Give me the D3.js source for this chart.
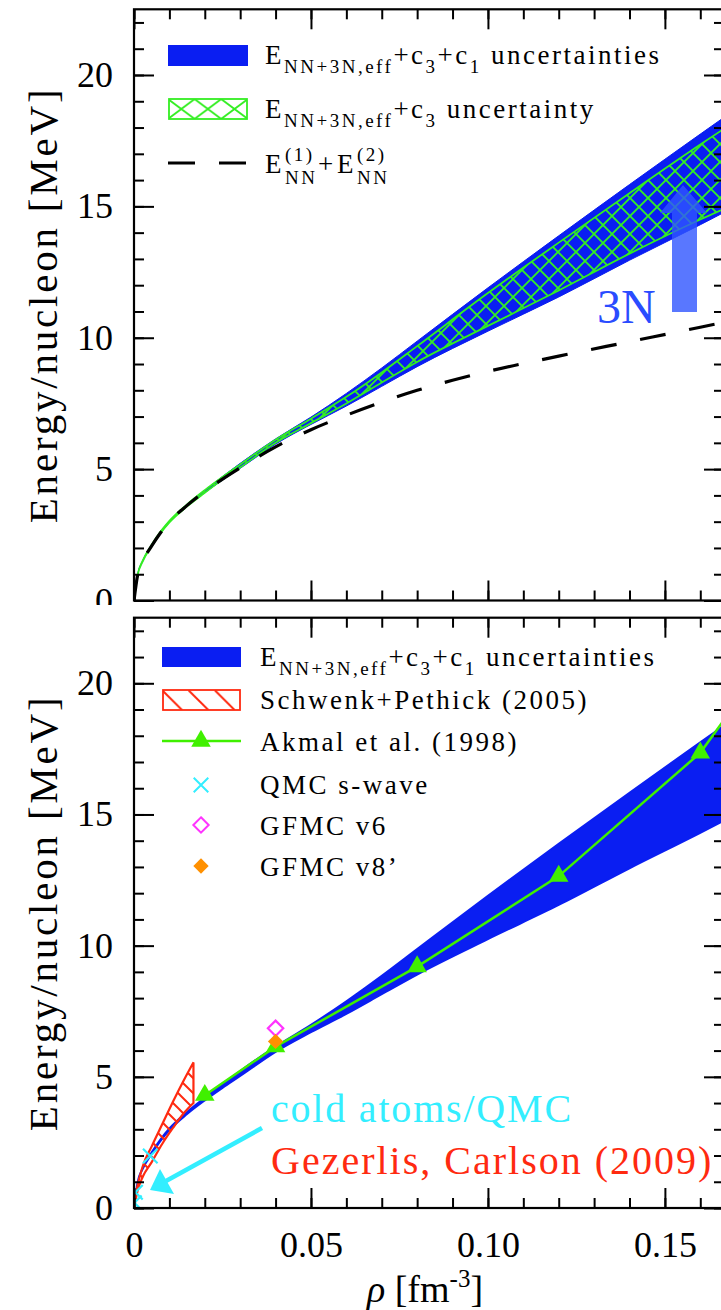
<!DOCTYPE html>
<meta charset="utf-8">
<style>
  html, body { margin: 0; padding: 0; background: #fff; }
  svg { display: block; font-family: "Liberation Serif", "DejaVu Serif", serif; }
  .tick line { stroke: #000; stroke-width: 2; }
  .lbl { letter-spacing: 2.5px; }
  .ttl { letter-spacing: 2.8px; }
</style>
<body>
<script src="https://cdn.jsdelivr.net/npm/d3@7"></script>
<svg id="chart" width="721" height="1310"></svg>
<script>
  // band: E_NN+3N,eff + c3 + c1 uncertainties
  var rhoBand = [0, 0.001, 0.0025, 0.005, 0.0075, 0.01, 0.015, 0.02, 0.025, 0.03, 0.04, 0.05, 0.06, 0.07, 0.08, 0.10, 0.12, 0.14, 0.16, 0.17];
  var bandLo = [0, 0.95, 1.5, 2.06, 2.56, 2.97, 3.58, 4.1, 4.58, 5.03, 5.95, 6.7, 7.4, 8.15, 8.9, 10.25, 11.55, 12.95, 14.3, 15.0];
  var bandHi = [0, 0.97, 1.53, 2.12, 2.62, 3.03, 3.66, 4.2, 4.72, 5.22, 6.15, 6.98, 7.88, 8.85, 9.87, 11.9, 13.88, 15.83, 17.75, 18.7];
  // hatched: E_NN+3N,eff + c3 uncertainty
  var hatchLo = [0, 0.95, 1.5, 2.06, 2.56, 2.97, 3.58, 4.1, 4.6, 5.06, 6.0, 6.75, 7.5, 8.3, 9.08, 10.45, 11.8, 13.2, 14.5, 15.1];
  var hatchHi = [0, 0.97, 1.53, 2.12, 2.62, 3.03, 3.66, 4.2, 4.7, 5.18, 6.12, 6.92, 7.75, 8.68, 9.68, 11.7, 13.62, 15.5, 17.35, 18.25];
  // E_NN^(1) + E_NN^(2)
  var rhoNN = [0, 0.001, 0.0025, 0.005, 0.0075, 0.01, 0.015, 0.02, 0.025, 0.03, 0.04, 0.05, 0.06, 0.07, 0.08, 0.09, 0.10, 0.12, 0.14, 0.16, 0.17];
  var eNN = [0, 0.95, 1.5, 2.08, 2.58, 3.0, 3.62, 4.15, 4.62, 5.05, 5.85, 6.5, 7.05, 7.55, 8.0, 8.38, 8.72, 9.3, 9.85, 10.4, 10.68];
  // Schwenk+Pethick (2005)
  var rhoSP = [0, 0.001, 0.0025, 0.005, 0.008, 0.011, 0.014, 0.0168];
  var spLo = [0, 0.65, 1.2, 1.75, 2.45, 3.05, 3.6, 4.0];
  var spHi = [0, 0.85, 1.6, 2.35, 3.2, 4.05, 4.85, 5.55];
  // Akmal et al. (1998)
  var rhoAkmal = [0.02, 0.04, 0.08, 0.12, 0.16, 0.20];
  var eAkmal = [4.3, 6.15, 9.2, 12.65, 17.35, 24.8];
  // QMC s-wave, GFMC
  var rhoQMC = [0.0001, 0.0004, 0.0046];
  var eQMC = [0.2, 0.6, 1.98];
  var rhoGFMC6 = [0.04], eGFMC6 = [6.85];
  var rhoGFMC8 = [0.04], eGFMC8 = [6.35];
  // ticks
  var xMajor = [0, 0.05, 0.10, 0.15];
  var xTickLabels = ["0", "0.05", "0.10", "0.15"];
  var yMajor = [0, 5, 10, 15, 20];

  var svg = d3.select("#chart");
  var x = d3.scaleLinear().domain([0, 0.1667]).range([134, 724]);
  var yTop = d3.scaleLinear().domain([0, 22.5]).range([600.5, 9.3]);
  var yBot = d3.scaleLinear().domain([0, 22.5]).range([1208, 617.7]);

  var BLUE = "#0a1ef2", GREEN = "#33ee22", RED = "#ff2a10", CYAN = "#33eeff";

  var defs = svg.append("defs");
  function clip(id, y) {
    defs.append("clipPath").attr("id", id).append("rect")
      .attr("x", x(0)).attr("y", y(22.5))
      .attr("width", x(0.1667) - x(0)).attr("height", y(0) - y(22.5));
  }
  clip("clipTop", yTop);
  clip("clipBot", yBot);

  var gp = defs.append("pattern").attr("id", "greenHatch").attr("patternUnits", "userSpaceOnUse")
    .attr("width", 18).attr("height", 18);
  gp.append("path").attr("d", "M0,0L18,18M18,0L0,18").attr("stroke", GREEN).attr("stroke-width", 1.8);
  var gl = defs.append("pattern").attr("id", "greenHatchLeg").attr("patternUnits", "userSpaceOnUse")
    .attr("x", 168).attr("y", 99).attr("width", 26.6).attr("height", 20);
  gl.append("path").attr("d", "M0,0L26.6,20M26.6,0L0,20").attr("stroke", GREEN).attr("stroke-width", 1.8);
  var rp = defs.append("pattern").attr("id", "redHatch").attr("patternUnits", "userSpaceOnUse")
    .attr("width", 15).attr("height", 15);
  rp.append("path").attr("d", "M-4,-4L19,19M-4,11L4,19M11,-4L19,4").attr("stroke", RED).attr("stroke-width", 2);
  var rl = defs.append("pattern").attr("id", "redHatchLeg").attr("patternUnits", "userSpaceOnUse")
    .attr("x", 162).attr("y", 690).attr("width", 26.3).attr("height", 20);
  rl.append("path").attr("d", "M0,0L20,20").attr("stroke", RED).attr("stroke-width", 2);

  function area(y, rho, lo, hi) {
    return d3.area().curve(d3.curveMonotoneX)
      .x(function (d, i) { return x(rho[i]); })
      .y0(function (d, i) { return y(lo[i]); })
      .y1(function (d, i) { return y(hi[i]); })(rho);
  }
  function line(y, rho, e, curve) {
    return d3.line().curve(curve || d3.curveMonotoneX)
      .x(function (d, i) { return x(rho[i]); })
      .y(function (d, i) { return y(e[i]); })(rho);
  }

  function axes(g, y, withXLabels) {
    var minorX = d3.range(0, 0.166, 0.01), minorY = d3.range(0, 23, 1);
    var b = y(0), t = y(22.5), l = x(0), r = x(0.1667);
    [[d3.axisBottom(x), b, minorX, xMajor], [d3.axisTop(x), t, minorX, xMajor]].forEach(function (a) {
      g.append("g").attr("transform", "translate(0," + a[1] + ")")
        .call(a[0].tickValues(a[2]).tickSize(-10).tickFormat("")).select(".domain").remove();
      g.append("g").attr("transform", "translate(0," + a[1] + ")")
        .call(a[0].tickValues(a[3]).tickSize(-20).tickFormat("")).select(".domain").remove();
    });
    [[d3.axisLeft(y), l], [d3.axisRight(y), r]].forEach(function (a) {
      g.append("g").attr("transform", "translate(" + a[1] + ",0)")
        .call(a[0].tickValues(minorY).tickSize(-10).tickFormat("")).select(".domain").remove();
      g.append("g").attr("transform", "translate(" + a[1] + ",0)")
        .call(a[0].tickValues(yMajor).tickSize(-20).tickFormat("")).select(".domain").remove();
    });
    g.append("rect").attr("x", l).attr("y", t).attr("width", r - l).attr("height", b - t)
      .attr("fill", "none").attr("stroke", "#000").attr("stroke-width", 2.2);
    var yl = g.append("g").attr("transform", "translate(" + l + ",0)")
      .call(d3.axisLeft(y).tickValues(yMajor).tickSize(0).tickPadding(21).tickFormat(d3.format("d")));
    yl.select(".domain").remove();
    yl.selectAll("text").attr("font-size", 36).attr("font-family", "Liberation Serif").attr("fill", "#000");
    if (withXLabels) {
      var xl = g.append("g").attr("transform", "translate(0," + b + ")")
        .call(d3.axisBottom(x).tickValues(xMajor).tickSize(0).tickPadding(23)
          .tickFormat(function (d, i) { return xTickLabels[i]; }));
      xl.select(".domain").remove();
      xl.selectAll("text").attr("font-size", 36).attr("font-family", "Liberation Serif").attr("fill", "#000");
    }
    g.append("text").attr("class", "ttl")
      .attr("transform", "translate(57," + ((t + b) / 2) + ") rotate(-90)")
      .attr("text-anchor", "middle").attr("font-size", 41).text("Energy/nucleon [MeV]");
  }

  function effLabel(g, xs, yb, parts) {
    var t = g.append("text").attr("x", xs).attr("y", yb);
    parts.forEach(function (p) {
      t.append("tspan").attr("font-size", p[1] ? 19 : 27).attr("dy", p[2] || 0).text(p[0]);
    });
    return t;
  }

  // ---------- top panel ----------
  var gTop = svg.append("g");
  var tp = gTop.append("g").attr("clip-path", "url(#clipTop)");
  tp.append("path").attr("d", area(yTop, rhoBand, bandLo, bandHi)).attr("fill", BLUE)
    .attr("stroke", BLUE).attr("stroke-width", 1);
  tp.append("path").attr("d", area(yTop, rhoBand, hatchLo, hatchHi)).attr("fill", "url(#greenHatch)")
    .attr("stroke", GREEN).attr("stroke-width", 1.8);
  tp.append("path").attr("d", line(yTop, rhoNN, eNN)).attr("fill", "none")
    .attr("stroke", "#000").attr("stroke-width", 3.2).attr("stroke-dasharray", "26,24");
  // 3N arrow
  tp.append("path").attr("d", "M672,312L672,213L660,213L683,185L707,213L697,213L697,312Z")
    .attr("fill", "#2f55ff").attr("opacity", 0.8);
  gTop.append("text").attr("x", 597).attr("y", 323).attr("font-size", 48).attr("fill", "#2a4cff").text("3N");
  axes(gTop, yTop, false);

  // top legend
  var lt = gTop.append("g").attr("font-size", 27).attr("class", "lbl");
  lt.append("rect").attr("x", 168).attr("y", 45).attr("width", 80).attr("height", 21).attr("fill", BLUE);
  lt.append("rect").attr("x", 169).attr("y", 99).attr("width", 78).attr("height", 20)
    .attr("fill", "url(#greenHatchLeg)").attr("stroke", GREEN).attr("stroke-width", 1.8);
  lt.append("line").attr("x1", 168).attr("x2", 248).attr("y1", 163).attr("y2", 163)
    .attr("stroke", "#000").attr("stroke-width", 3.2).attr("stroke-dasharray", "27,24");
  effLabel(lt, 265, 64, [["E"], ["NN+3N,eff", 1, 9], ["+c", 0, -9], ["3", 1, 9], ["+c", 0, -9], ["1", 1, 9], [" uncertainties", 0, -9]]);
  effLabel(lt, 265, 118, [["E"], ["NN+3N,eff", 1, 9], ["+c", 0, -9], ["3", 1, 9], [" uncertainty", 0, -9]]);
  lt.append("text").attr("x", 265).attr("y", 173).text("E");
  lt.append("text").attr("x", 285).attr("y", 161).attr("font-size", 19).text("(1)");
  lt.append("text").attr("x", 285).attr("y", 184).attr("font-size", 19).text("NN");
  lt.append("text").attr("x", 318).attr("y", 173).text("+");
  lt.append("text").attr("x", 337).attr("y", 173).text("E");
  lt.append("text").attr("x", 357).attr("y", 161).attr("font-size", 19).text("(2)");
  lt.append("text").attr("x", 357).attr("y", 184).attr("font-size", 19).text("NN");

  // cover below top panel
  svg.append("rect").attr("x", 0).attr("y", 605).attr("width", 721).attr("height", 705).attr("fill", "#fff");

  // ---------- bottom panel ----------
  var gBot = svg.append("g");
  var bp = gBot.append("g").attr("clip-path", "url(#clipBot)");
  bp.append("path").attr("d", area(yBot, rhoBand, bandLo, bandHi)).attr("fill", BLUE)
    .attr("stroke", BLUE).attr("stroke-width", 2);
  bp.append("path").attr("d", area(yBot, rhoSP, spLo, spHi)).attr("fill", "url(#redHatch)")
    .attr("stroke", RED).attr("stroke-width", 2.2);
  bp.append("path").attr("d", line(yBot, rhoAkmal, eAkmal, d3.curveLinear)).attr("fill", "none")
    .attr("stroke", "#40f000").attr("stroke-width", 2.5);
  var tri = d3.symbol().type(d3.symbolTriangle).size(165);
  bp.selectAll(".ak").data(rhoAkmal).enter().append("path")
    .attr("transform", function (d, i) { return "translate(" + x(d) + "," + yBot(eAkmal[i]) + ")"; })
    .attr("d", tri).attr("fill", "#40f000");
  var cross = d3.symbol().type(d3.symbolX).size(140);
  bp.selectAll(".qmc").data(rhoQMC).enter().append("path")
    .attr("transform", function (d, i) { return "translate(" + x(d) + "," + yBot(eQMC[i]) + ")"; })
    .attr("d", cross).attr("fill", "none").attr("stroke", CYAN).attr("stroke-width", 2.2);
  var diamond = d3.symbol().type(d3.symbolDiamond2).size(150);
  bp.selectAll(".g6").data(rhoGFMC6).enter().append("path")
    .attr("transform", function (d, i) { return "translate(" + x(d) + "," + yBot(eGFMC6[i]) + ")"; })
    .attr("d", diamond).attr("fill", "none").attr("stroke", "#ff33ff").attr("stroke-width", 2.2);
  bp.selectAll(".g8").data(rhoGFMC8).enter().append("path")
    .attr("transform", function (d, i) { return "translate(" + x(d) + "," + yBot(eGFMC8[i]) + ")"; })
    .attr("d", diamond).attr("fill", "#ff9000");
  // cold atoms arrow
  gBot.append("line").attr("x1", 262).attr("y1", 1128).attr("x2", 166).attr("y2", 1181)
    .attr("stroke", CYAN).attr("stroke-width", 4.5);
  gBot.append("path").attr("d", "M150,1190L160,1169L174,1194Z").attr("fill", CYAN);
  gBot.append("text").attr("class", "lbl").attr("x", 271).attr("y", 1122).attr("font-size", 40)
    .attr("fill", CYAN).style("letter-spacing", "1.8px").text("cold atoms/QMC");
  gBot.append("text").attr("class", "lbl").attr("x", 271).attr("y", 1174).attr("font-size", 40)
    .attr("fill", RED).style("letter-spacing", "2px").text("Gezerlis, Carlson (2009)");
  axes(gBot, yBot, true);
  var xt = gBot.append("text").attr("x", 425).attr("y", 1302).attr("text-anchor", "middle").attr("font-size", 38);
  xt.append("tspan").attr("font-style", "italic").text("ρ");
  xt.append("tspan").text("  [fm");
  xt.append("tspan").attr("font-size", 25).attr("dy", -15).text("-3");
  xt.append("tspan").attr("dy", 15).text("]");

  // bottom legend
  var lb = gBot.append("g").attr("font-size", 27).attr("class", "lbl");
  lb.append("rect").attr("x", 162).attr("y", 647).attr("width", 79).attr("height", 20).attr("fill", BLUE);
  lb.append("rect").attr("x", 163).attr("y", 690).attr("width", 77).attr("height", 20)
    .attr("fill", "url(#redHatchLeg)").attr("stroke", RED).attr("stroke-width", 1.8);
  lb.append("line").attr("x1", 162).attr("x2", 241).attr("y1", 741).attr("y2", 741)
    .attr("stroke", "#40f000").attr("stroke-width", 2.5);
  lb.append("path").attr("transform", "translate(201,741)").attr("d", tri).attr("fill", "#40f000");
  lb.append("path").attr("transform", "translate(201,785)").attr("d", cross)
    .attr("fill", "none").attr("stroke", CYAN).attr("stroke-width", 2);
  lb.append("path").attr("transform", "translate(201,825)").attr("d", diamond)
    .attr("fill", "none").attr("stroke", "#ff33ff").attr("stroke-width", 2);
  lb.append("path").attr("transform", "translate(201,866)").attr("d", diamond).attr("fill", "#ff9000");
  effLabel(lb, 260, 666, [["E"], ["NN+3N,eff", 1, 9], ["+c", 0, -9], ["3", 1, 9], ["+c", 0, -9], ["1", 1, 9], [" uncertainties", 0, -9]]);
  var legendNames = ["Schwenk+Pethick (2005)", "Akmal et al. (1998)", "QMC s-wave", "GFMC v6", "GFMC v8\u2019"];
  var legendY = [709, 751, 794, 835, 876];
  legendNames.forEach(function (n, i) {
    lb.append("text").attr("x", 260).attr("y", legendY[i]).text(n);
  });
</script>
</body>
